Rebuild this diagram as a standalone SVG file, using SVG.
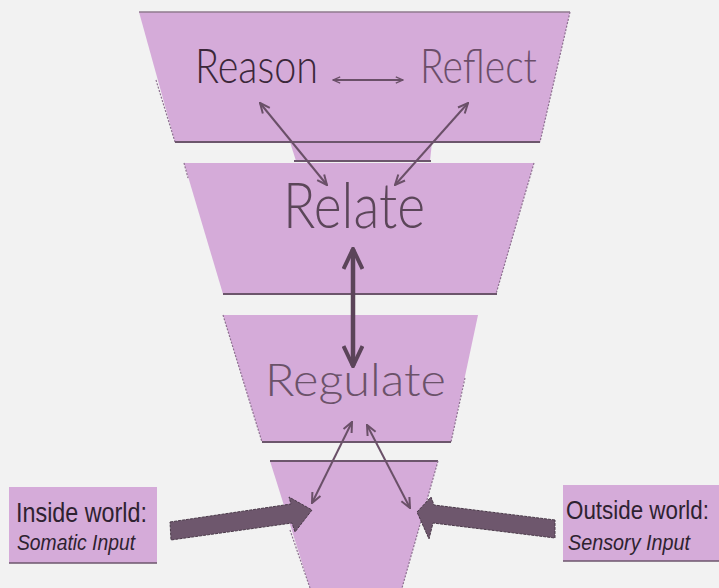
<svg xmlns="http://www.w3.org/2000/svg" width="719" height="588" viewBox="0 0 719 588">
  <defs>
    <style>
      .tier { fill: #d5abd9; }
      .side { fill: none; stroke: #8d7090; stroke-width: 1.2; stroke-dasharray: 2 1.5; }
      .edge { fill: none; stroke: #6c566c; stroke-width: 2; }
      .edgeLight { fill: none; stroke: #8f7a8e; stroke-width: 1.5; }
      .big { font-family: Lato, "Open Sans", "DejaVu Sans", sans-serif; font-weight: 300; }
      .lab { font-family: "Liberation Sans Narrow", "Liberation Sans", Arial, sans-serif; fill: #2e2230; }
      .thin { fill: none; stroke: #6a5068; stroke-width: 2; }
      .thick { fill: none; stroke: #5b4459; stroke-width: 4.5; }
      .block { fill: #6e576d; stroke: #4b3a4a; stroke-width: 1; stroke-dasharray: 3 1; }
    </style>
    <marker id="ah" viewBox="0 0 12 12" refX="11" refY="6" markerWidth="12" markerHeight="12" markerUnits="userSpaceOnUse" orient="auto-start-reverse">
      <path d="M1,1.5 L11,6 L1,10.5" fill="none" stroke="#6a5068" stroke-width="2"/>
    </marker>
    <marker id="ahs" viewBox="0 0 10 10" refX="9" refY="5" markerWidth="9" markerHeight="9" markerUnits="userSpaceOnUse" orient="auto-start-reverse">
      <path d="M1,1.5 L9,5 L1,8.5" fill="none" stroke="#6a5068" stroke-width="1.5"/>
    </marker>
    <marker id="ahb" viewBox="0 0 24 22" refX="22" refY="11" markerWidth="24" markerHeight="22" markerUnits="userSpaceOnUse" orient="auto-start-reverse">
      <path d="M2,1.5 L22,11 L2,20.5" fill="none" stroke="#5b4459" stroke-width="4"/>
    </marker>
  </defs>

  <rect x="0" y="0" width="719" height="588" fill="#f2f2f2"/>

  <!-- strip between top tiers -->
  <polygon class="tier" points="290,142 432,142 430,161 296,161"/>
  <line class="edge" x1="294" y1="161" x2="431" y2="161"/>

  <g id="tier-reason">
    <polygon class="tier" points="139,12 570,12 540,142 175,142"/>
    <line class="edgeLight" x1="139" y1="12" x2="570" y2="12"/>
    <line class="side" x1="156" y1="80" x2="175" y2="142"/>
    <line class="side" x1="570" y1="12" x2="540" y2="142"/>
    <line class="edge" x1="175" y1="142" x2="540" y2="142"/>
    <text class="big" x="195" y="83" font-size="47" textLength="123" lengthAdjust="spacingAndGlyphs" fill="#3b2739">Reason</text>
    <text class="big" x="420" y="83" font-size="47" textLength="117" lengthAdjust="spacingAndGlyphs" fill="#6b4e69">Reflect</text>
  </g>

  <g id="tier-relate">
    <polygon class="tier" points="184,163 534,163 496,294 223,294"/>
    <line class="side" x1="534" y1="163" x2="496" y2="294"/>
    <line class="side" x1="184" y1="163" x2="188" y2="178"/>
    <line class="edge" x1="223" y1="294" x2="497" y2="294"/>
    <text class="big" x="283" y="228" font-size="64" textLength="142" lengthAdjust="spacingAndGlyphs" fill="#5b4659">Relate</text>
  </g>

  <g id="tier-regulate">
    <polygon class="tier" points="223,315 478,315 451,442 262,442"/>
    <line class="side" x1="223" y1="315" x2="262" y2="442"/>
    <line class="side" x1="465" y1="378" x2="451" y2="442"/>
    <line class="edge" x1="262" y1="442" x2="451" y2="442"/>
    <text class="big" x="265" y="396" font-size="46" textLength="181" lengthAdjust="spacingAndGlyphs" fill="#6b5269">Regulate</text>
  </g>

  <g id="tier-input">
    <polygon class="tier" points="270,461 438,461 402,588 310,588"/>
    <line class="edge" x1="270" y1="461" x2="438" y2="461"/>
    <line class="side" x1="290" y1="530" x2="310" y2="588"/>
    <line class="side" x1="438" y1="461" x2="402" y2="588"/>
  </g>

  <g id="box-inside">
    <rect x="9" y="487" width="148" height="76" fill="#d5abd9"/>
    <line x1="9" y1="563" x2="157" y2="563" stroke="#6c566c" stroke-width="1.5"/>
    <text class="lab" x="16" y="522" font-size="28" textLength="131" lengthAdjust="spacingAndGlyphs">Inside world:</text>
    <text class="lab" x="17" y="550" font-size="22" font-style="italic" textLength="118" lengthAdjust="spacingAndGlyphs">Somatic Input</text>
  </g>

  <g id="box-outside">
    <rect x="563" y="485" width="156" height="76" fill="#d5abd9"/>
    <line x1="563" y1="561" x2="719" y2="561" stroke="#6c566c" stroke-width="1.5"/>
    <text class="lab" x="566" y="519" font-size="26" textLength="143" lengthAdjust="spacingAndGlyphs">Outside world:</text>
    <text class="lab" x="568" y="550" font-size="22" font-style="italic" textLength="122" lengthAdjust="spacingAndGlyphs">Sensory Input</text>
  </g>

  <g id="connectors">
    <line class="thin" x1="333" y1="80" x2="403" y2="80" stroke-width="1.5" marker-start="url(#ahs)" marker-end="url(#ahs)"/>
    <line class="thin" x1="327" y1="185" x2="260" y2="103" marker-start="url(#ah)" marker-end="url(#ah)"/>
    <line class="thin" x1="395" y1="185" x2="468" y2="103" marker-start="url(#ah)" marker-end="url(#ah)"/>
    <line class="thick" x1="353" y1="249" x2="353" y2="366" marker-start="url(#ahb)" marker-end="url(#ahb)"/>
    <line class="thin" x1="352" y1="422" x2="312" y2="503" marker-start="url(#ah)" marker-end="url(#ah)"/>
    <line class="thin" x1="367" y1="425" x2="410" y2="508" marker-start="url(#ah)" marker-end="url(#ah)"/>
    <polygon class="block" points="170,522 291,504 289,497 312,510 295,532 292,523 171,540"/>
    <polygon class="block" points="555,520 434,505 431,497 417,512 429,539 433,523 555,538"/>
  </g>
</svg>
